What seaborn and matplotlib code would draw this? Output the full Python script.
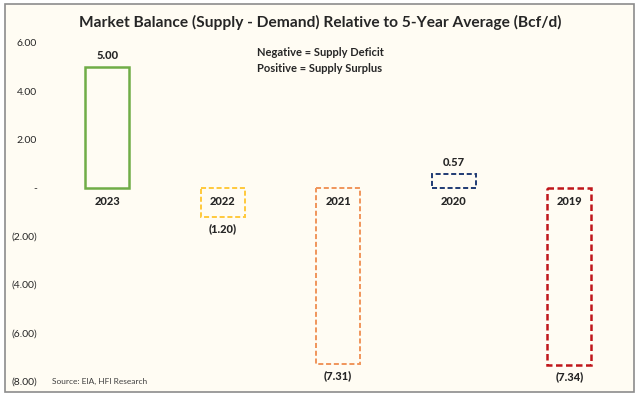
import matplotlib.pyplot as plt
import matplotlib.patches as mpatches
import seaborn as sns

# Данные графика
years = ["2023", "2022", "2021", "2020", "2019"]
balance = [5.00, -1.20, -7.31, 0.57, -7.34]
value_labels = ["5.00", "(1.20)", "(7.31)", "0.57", "(7.34)"]
y_ticks = [6, 4, 2, 0, -2, -4, -6, -8]
y_tick_labels = ["6.00", "4.00", "2.00", "-", "(2.00)", "(4.00)", "(6.00)", "(8.00)"]

edge_colors = ["#70AD47", "#FFC93C", "#F0955A", "#1F3A73", "#C0161B"]
dash = (0, (2.6, 1.4))
line_styles = ["-", dash, dash, dash, dash]
line_widths = [1.8, 1.4, 1.4, 1.4, 1.8]

sns.set_style("white")
plt.rcParams["font.family"] = ["Lato", "DejaVu Sans"]
bg = "#FFFCF3"

fig = plt.figure(figsize=(6.4, 3.98), dpi=100)
fig.patch.set_facecolor("white")
fig.patches.append(mpatches.Rectangle((5 / 640, 1 - 392 / 398), 629 / 640, 388 / 398,
                                      transform=fig.transFigure, facecolor=bg,
                                      edgecolor="#8C8C8C", linewidth=1.2, zorder=-5))

ax = fig.add_axes([49.5 / 640, 1 - 381 / 398, 577.5 / 640, 338 / 398])
ax.set_facecolor("none")
ax.set_zorder(2)

sns.barplot(x=years, y=balance, hue=years, palette=edge_colors, order=years,
            fill=False, width=0.38, legend=False, ax=ax)

for cont, col, ls, lw in zip(ax.containers, edge_colors, line_styles, line_widths):
    for p in cont.patches:
        p.set_edgecolor(col)
        p.set_linestyle(ls)
        p.set_linewidth(lw)

ax.set_xlim(-0.5, 4.5)
ax.set_ylim(-8, 6)
ax.set_yticks(y_ticks)
ax.set_yticklabels(y_tick_labels, fontsize=7.5)
ax.tick_params(axis="y", length=0, pad=9)
ax.set_xticks([])
ax.set_xlabel("")
ax.set_ylabel("")
for s in ax.spines.values():
    s.set_visible(False)

# подписи категорий под нулевой линией
for i, yr in enumerate(years):
    ax.text(i, -0.55, yr, ha="center", va="center", fontsize=8, fontweight=900)

# подписи значений
for i, (v, lab) in enumerate(zip(balance, value_labels)):
    off = 12 if v > 0 else -11.5
    ax.annotate(lab, (i, v), xytext=(0, off), textcoords="offset pixels",
                ha="center", va="center", fontsize=8, fontweight=900)

fig.text(0.5, 1 - 22 / 398, "Market Balance (Supply - Demand) Relative to 5-Year Average (Bcf/d)",
         ha="center", va="center", fontsize=11.2, fontweight="bold")
fig.text(257 / 640, 1 - 53 / 398, "Negative = Supply Deficit", ha="left", va="center",
         fontsize=8, fontweight="bold")
fig.text(257 / 640, 1 - 68 / 398, "Positive = Supply Surplus", ha="left", va="center",
         fontsize=8, fontweight="bold")
fig.text(52 / 640, 1 - 381 / 398, "Source: EIA, HFI Research", ha="left", va="center",
         fontsize=6, color="#404040")

fig.savefig("out.png", dpi=100, facecolor=fig.get_facecolor())
